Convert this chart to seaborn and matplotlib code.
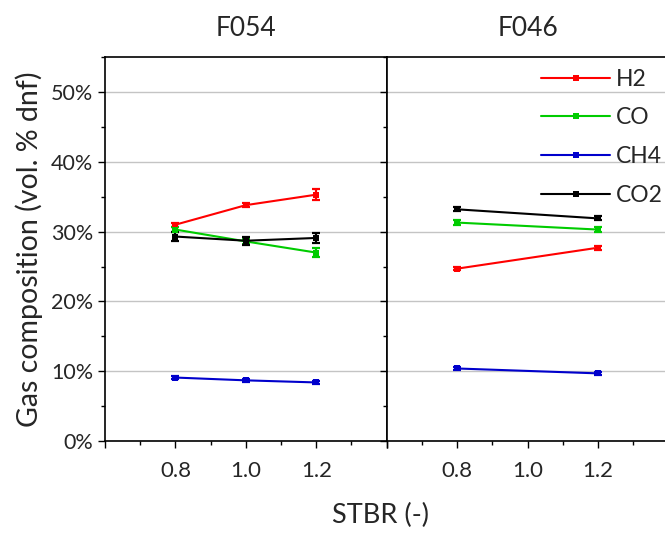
import numpy as np
import pandas as pd
import matplotlib
matplotlib.use("Agg")
import matplotlib.pyplot as plt
from matplotlib.ticker import MultipleLocator, PercentFormatter
import seaborn as sns

# Steam-to-biomass ratios tested for each fuel
stbr_f054 = [0.8, 1.0, 1.2]
stbr_f046 = [0.8, 1.2]

gases = ["H2", "CO", "CH4", "CO2"]
colors = {"H2": "#ff0000", "CO": "#00cc00", "CH4": "#0000cc", "CO2": "#000000"}

# Gas composition, vol.% dry N2-free, with standard deviations
f054_h2 = [31.0, 33.8, 35.3]
f054_co = [30.3, 28.6, 27.0]
f054_ch4 = [9.1, 8.7, 8.4]
f054_co2 = [29.3, 28.7, 29.1]
f054_h2_err = [0.3, 0.3, 0.8]
f054_co_err = [0.3, 0.3, 0.6]
f054_ch4_err = [0.2, 0.2, 0.2]
f054_co2_err = [0.6, 0.6, 0.7]

f046_h2 = [24.7, 27.7]
f046_co = [31.3, 30.3]
f046_ch4 = [10.4, 9.7]
f046_co2 = [33.2, 31.9]
f046_h2_err = [0.2, 0.3]
f046_co_err = [0.3, 0.3]
f046_ch4_err = [0.2, 0.2]
f046_co2_err = [0.3, 0.3]


def build_frame(stbr, vals, errs):
    rows = []
    for gas, v, e in zip(gases, vals, errs):
        for x, y, s in zip(stbr, v, e):
            rows.append({"STBR": x, "gas": gas, "value": y, "err": s})
    return pd.DataFrame(rows)


df_f054 = build_frame(stbr_f054,
                      [f054_h2, f054_co, f054_ch4, f054_co2],
                      [f054_h2_err, f054_co_err, f054_ch4_err, f054_co2_err])
df_f046 = build_frame(stbr_f046,
                      [f046_h2, f046_co, f046_ch4, f046_co2],
                      [f046_h2_err, f046_co_err, f046_ch4_err, f046_co2_err])

sns.set_style("ticks")
plt.rcParams["font.family"] = ["Lato", "DejaVu Sans"]
plt.rcParams["axes.linewidth"] = 1.2

fig = plt.figure(figsize=(6.65, 5.34), dpi=100)
ax1 = fig.add_axes([0.158, 0.174, 0.4235, 0.719])
ax2 = fig.add_axes([0.5815, 0.174, 0.4235, 0.719])

for ax, df, title in [(ax1, df_f054, "F054"), (ax2, df_f046, "F046")]:
    ax.set_axisbelow(True)
    ax.yaxis.grid(True, color="#c4c4c4", linewidth=1.0)
    for gas in gases:
        sub = df[df["gas"] == gas]
        ax.errorbar(sub["STBR"], sub["value"], yerr=sub["err"], fmt="none",
                    ecolor=colors[gas], elinewidth=1.6, capsize=3.2, capthick=1.6,
                    zorder=3)
    sns.lineplot(data=df, x="STBR", y="value", hue="gas", hue_order=gases,
                 palette=colors, marker="s", markersize=4, markeredgewidth=0,
                 linewidth=1.5, ax=ax, legend=(ax is ax2), zorder=4)
    ax.set_xlim(0.6, 1.4)
    ax.set_ylim(0, 55)
    ax.xaxis.set_major_locator(MultipleLocator(0.2))
    ax.xaxis.set_minor_locator(MultipleLocator(0.1))
    ax.yaxis.set_major_locator(MultipleLocator(10))
    ax.yaxis.set_minor_locator(MultipleLocator(5))
    ax.xaxis.set_major_formatter(plt.FuncFormatter(lambda v, p: f"{v:.1f}" if 0.7 < v < 1.3 else ""))
    ax.yaxis.set_major_formatter(PercentFormatter(decimals=0))
    ax.tick_params(axis="both", which="major", direction="out", length=5,
                   width=1.0, labelsize=15.5, color="black")
    ax.tick_params(axis="x", which="major", labelsize=16, pad=9)
    ax.tick_params(axis="both", which="minor", direction="out", length=3,
                   width=1.0, color="black")
    ax.set_title(title, fontsize=19, pad=15)
    ax.set_xlabel("")
    ax.set_ylabel("")
    for sp in ax.spines.values():
        sp.set_visible(True)
        sp.set_color("black")
        sp.set_linewidth(1.2)

ax2.tick_params(axis="y", labelleft=False)
ax1.set_ylabel("Gas composition (vol. % dnf)", fontsize=20.5, labelpad=6)
fig.text(0.572, 0.02, "STBR (-)", ha="center", va="baseline", fontsize=19.5)

handles, labels = ax2.get_legend_handles_labels()
ax2.legend(handles, labels, loc="upper right", bbox_to_anchor=(1.02, 1.0),
           frameon=False, fontsize=16.5, handlelength=3.0, handletextpad=0.25,
           labelspacing=0.78, borderaxespad=0.1)

fig.savefig("out.png", dpi=100)
